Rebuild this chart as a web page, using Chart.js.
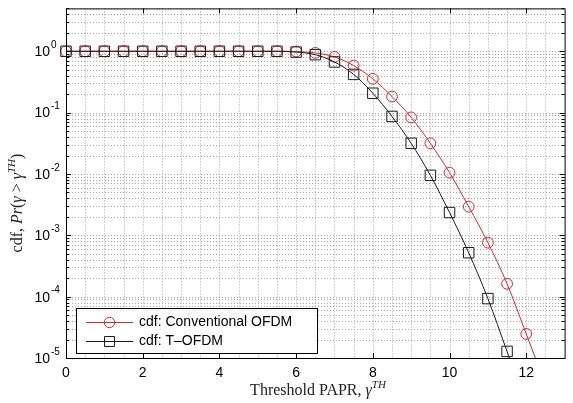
<!DOCTYPE html>
<html lang="en">
<head>
<meta charset="UTF-8" />
<title>PAPR CCDF</title>
<script src="https://cdn.jsdelivr.net/npm/chart.js@4.4.1/dist/chart.umd.min.js"></script>
<style>
  body { margin: 0; background: #fff; }
  #chart { display: block; }
</style>
</head>
<body>
<canvas id="chart" width="573" height="403"></canvas>
<script>
// threshold PAPR (dB); the last entry only carries the line off the bottom of the axes
const papr = [0, 0.5, 1, 1.5, 2, 2.5, 3, 3.5, 4, 4.5, 5, 5.5, 6, 6.5, 7, 7.5, 8, 8.5, 9, 9.5, 10, 10.5, 11, 11.5, 12, 12.5];
const conventional = [1, 1, 1, 1, 1, 1, 1, 1, 1, 1, 1, 1, 0.99, 0.94, 0.81, 0.585, 0.355, 0.183, 0.0835, 0.0316, 0.0105, 0.00293, 7.6e-4, 1.62e-4, 2.47e-5, 3.7e-6];
const tOfdm = [1, 1, 1, 1, 1, 1, 1, 1, 1, 1, 1, 1, 0.97, 0.88, 0.67, 0.42, 0.207, 0.0867, 0.0316, 0.0095, 0.00235, 5.2e-4, 9.3e-5, 1.28e-5, 1.8e-6];
const xTicks = [0, 2, 4, 6, 8, 10, 12];
const yDecades = [-5, -4, -3, -2, -1, 0];
const seriesLabels = ['cdf: Conventional OFDM', 'cdf: T\u2013OFDM'];

const RED = '#dd2a2f';
const BLACK = '#1c1c1c';
const SANS = '"Liberation Sans", Arial, sans-serif';
const SERIF = '"Liberation Serif", "DejaVu Serif", serif';

function pts(values) {
  return values.map((v, i) => ({ x: papr[i], y: v }));
}
// the extra tail point gets no marker
function markerRadius(r) {
  return ctx => (ctx.dataIndex === ctx.dataset.data.length - 1 ? 0 : r);
}

function drawRich(ctx, segs, x, y) {
  let w = 0;
  segs.forEach(s => { ctx.font = s.font; w += ctx.measureText(s.t).width; });
  let cx = x - w / 2;
  segs.forEach(s => {
    ctx.font = s.font;
    ctx.fillText(s.t, cx, y + (s.dy || 0));
    cx += ctx.measureText(s.t).width;
  });
}

function drawMarker(ctx, style, x, y, color) {
  ctx.strokeStyle = color;
  ctx.lineWidth = 1;
  ctx.beginPath();
  if (style === 'circle') ctx.arc(x, y, 5.2, 0, Math.PI * 2);
  else ctx.rect(x - 5, y - 5, 10, 10);
  ctx.stroke();
}

const matlabAxes = {
  id: 'matlabAxes',
  beforeDatasetsDraw(chart) {
    const { ctx, chartArea: a, scales: { x, y } } = chart;
    ctx.save();
    ctx.beginPath();
    ctx.rect(a.left, a.top, a.right - a.left, a.bottom - a.top);
    ctx.clip();
    ctx.strokeStyle = '#a6a6a6';
    ctx.lineWidth = 1;
    ctx.setLineDash([1, 2]);
    // vertical grid every 0.5
    for (let v = 0.5; v < 13; v += 0.5) {
      const px = Math.round(x.getPixelForValue(v)) + 0.5;
      ctx.beginPath(); ctx.moveTo(px, a.top); ctx.lineTo(px, a.bottom); ctx.stroke();
    }
    // horizontal log grid
    for (let k = -5; k <= 0; k++) {
      for (let m = 1; m <= 9; m++) {
        const v = m * Math.pow(10, k);
        if (v > y.max) continue;
        const py = Math.round(y.getPixelForValue(v)) + 0.5;
        ctx.beginPath(); ctx.moveTo(a.left, py); ctx.lineTo(a.right, py); ctx.stroke();
      }
    }
    ctx.restore();
  },
  afterDatasetsDraw(chart) {
    const { ctx, chartArea: a, scales: { x, y } } = chart;
    ctx.save();
    ctx.strokeStyle = '#000';
    ctx.lineWidth = 1;
    ctx.setLineDash([]);
    ctx.strokeRect(a.left + 0.5, a.top + 0.5, a.right - a.left, a.bottom - a.top);

    // tick marks, inward on all sides
    ctx.beginPath();
    xTicks.forEach(v => {
      const px = Math.round(x.getPixelForValue(v)) + 0.5;
      ctx.moveTo(px, a.bottom); ctx.lineTo(px, a.bottom - 5);
      ctx.moveTo(px, a.top); ctx.lineTo(px, a.top + 5);
    });
    for (let k = -5; k <= 0; k++) {
      for (let m = 1; m <= 9; m++) {
        const v = m * Math.pow(10, k);
        if (v > y.max) continue;
        const len = m === 1 ? 5 : 3;
        const py = Math.round(y.getPixelForValue(v)) + 0.5;
        ctx.moveTo(a.left, py); ctx.lineTo(a.left + len, py);
        ctx.moveTo(a.right, py); ctx.lineTo(a.right - len, py);
      }
    }
    ctx.stroke();

    // tick labels
    ctx.fillStyle = '#000';
    ctx.textBaseline = 'middle';
    ctx.textAlign = 'center';
    ctx.font = '14px ' + SANS;
    xTicks.forEach(v => ctx.fillText(String(v), x.getPixelForValue(v), 373));
    yDecades.forEach(k => {
      const py = y.getPixelForValue(Math.pow(10, k));
      ctx.textAlign = 'right';
      ctx.font = '14px ' + SANS;
      ctx.fillText('10', 50, py + 1);
      ctx.textAlign = 'left';
      ctx.font = '10px ' + SANS;
      ctx.fillText(k === 0 ? '0' : '-' + (-k), 51, py - 6);
    });

    // axis titles
    ctx.textAlign = 'left';
    ctx.textBaseline = 'alphabetic';
    ctx.fillStyle = '#222';
    const n = '16px ' + SERIF, it = 'italic 16px ' + SERIF, sup = 'italic 11px ' + SERIF;
    drawRich(ctx, [
      { t: 'Threshold PAPR, ', font: n },
      { t: '\u03b3', font: it },
      { t: 'TH', font: sup, dy: -7 }
    ], 318, 395);
    ctx.save();
    ctx.translate(22, 203);
    ctx.rotate(-Math.PI / 2);
    drawRich(ctx, [
      { t: 'cdf, ', font: n },
      { t: 'Pr', font: it },
      { t: '(', font: n },
      { t: '\u03b3', font: it },
      { t: ' > ', font: n },
      { t: '\u03b3', font: it },
      { t: 'TH', font: sup, dy: -7 },
      { t: ')', font: n }
    ], 0, 0);
    ctx.restore();

    // legend box inside the axes
    const lx = 76, ly = 308, lw = 241, lh = 45;
    ctx.fillStyle = '#fff';
    ctx.fillRect(lx, ly, lw, lh);
    ctx.strokeStyle = '#000';
    ctx.strokeRect(lx + 0.5, ly + 0.5, lw, lh);
    chart.data.datasets.forEach((ds, i) => {
      const ry = ly + 14 + i * 19 + 0.5;
      ctx.strokeStyle = ds.borderColor;
      ctx.lineWidth = 1;
      ctx.beginPath(); ctx.moveTo(86, ry); ctx.lineTo(133, ry); ctx.stroke();
      drawMarker(ctx, ds.pointStyle, 109.5, ry, ds.borderColor);
      ctx.fillStyle = '#000';
      ctx.font = '14px ' + SANS;
      ctx.textBaseline = 'middle';
      ctx.fillText(seriesLabels[i], 139, ry);
    });
    ctx.restore();
  }
};

new Chart(document.getElementById('chart'), {
  type: 'line',
  data: {
    datasets: [
      {
        label: seriesLabels[0],
        data: pts(conventional),
        borderColor: RED,
        backgroundColor: 'rgba(0,0,0,0)',
        borderWidth: 1,
        pointStyle: 'circle',
        pointRadius: markerRadius(5.4),
        pointBorderWidth: 1,
        pointBorderColor: RED,
        pointBackgroundColor: 'rgba(0,0,0,0)',
        cubicInterpolationMode: 'monotone',
        order: 2,
        clip: { left: 8, top: 8, right: 0, bottom: 0 }
      },
      {
        label: seriesLabels[1],
        data: pts(tOfdm),
        borderColor: BLACK,
        backgroundColor: 'rgba(0,0,0,0)',
        borderWidth: 1,
        pointStyle: 'rect',
        pointRadius: markerRadius(7.4),
        pointBorderWidth: 1,
        pointBorderColor: BLACK,
        pointBackgroundColor: 'rgba(0,0,0,0)',
        cubicInterpolationMode: 'monotone',
        order: 1,
        clip: { left: 8, top: 8, right: 0, bottom: 0 }
      }
    ]
  },
  options: {
    responsive: false,
    animation: false,
    layout: { padding: { left: 66, right: 0, top: 8, bottom: 45 } },
    plugins: { legend: { display: false }, tooltip: { enabled: false } },
    scales: {
      x: { type: 'linear', min: 0, max: 13, display: false },
      y: { type: 'logarithmic', min: 1e-5, max: 5, display: false }
    }
  },
  plugins: [matlabAxes]
});
</script>
</body>
</html>
